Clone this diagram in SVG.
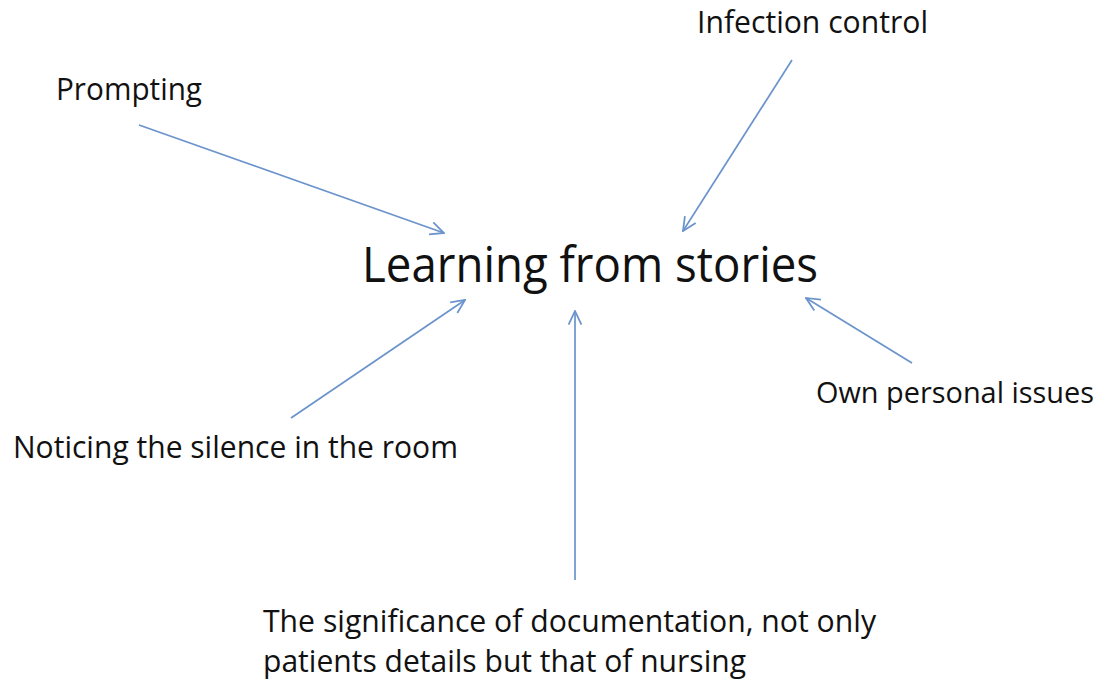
<svg xmlns="http://www.w3.org/2000/svg" width="1107" height="680" viewBox="0 0 1107 680">
<style>
text{font-family:"Open Sans","Noto Sans","DejaVu Sans",sans-serif;fill:#111;}
.lbl{font-size:31px;}
.sm{font-size:29px;}
.title{font-size:50px;}
.con line{stroke:#6b93cc;stroke-width:1.7;fill:none;marker-end:url(#ah);}
</style>
<defs>
<marker id="ah" viewBox="0 0 20 20" refX="19" refY="10" markerWidth="16" markerHeight="16" markerUnits="userSpaceOnUse" orient="auto">
<path d="M2,2 L19,10 L2,18" fill="none" stroke="#6b93cc" stroke-width="2.2"/>
</marker>
</defs>
<rect width="1107" height="680" fill="#fff"/>
<g id="center"><text class="title" x="362" y="282" textLength="456" lengthAdjust="spacingAndGlyphs">Learning from stories</text></g>
<g id="prompting"><text class="lbl" x="56" y="100" textLength="146" lengthAdjust="spacingAndGlyphs">Prompting</text></g>
<g id="infection"><text class="lbl" x="697" y="33" textLength="231" lengthAdjust="spacingAndGlyphs">Infection control</text></g>
<g id="personal"><text class="sm" x="816" y="403" textLength="278" lengthAdjust="spacingAndGlyphs">Own personal issues</text></g>
<g id="silence"><text class="lbl" x="13" y="458" textLength="445" lengthAdjust="spacingAndGlyphs">Noticing the silence in the room</text></g>
<g id="documentation">
<text class="lbl" x="263" y="632" textLength="613" lengthAdjust="spacingAndGlyphs">The significance of documentation, not only</text>
<text class="lbl" x="263" y="672" textLength="483" lengthAdjust="spacingAndGlyphs">patients details but that of nursing</text>
</g>
<g id="connectors" class="con">
<line x1="139" y1="125" x2="444" y2="233"/>
<line x1="792" y1="60" x2="683" y2="231"/>
<line x1="291" y1="418" x2="465" y2="300"/>
<line x1="575" y1="580" x2="575" y2="311"/>
<line x1="912" y1="363" x2="806" y2="298"/>
</g>
</svg>
